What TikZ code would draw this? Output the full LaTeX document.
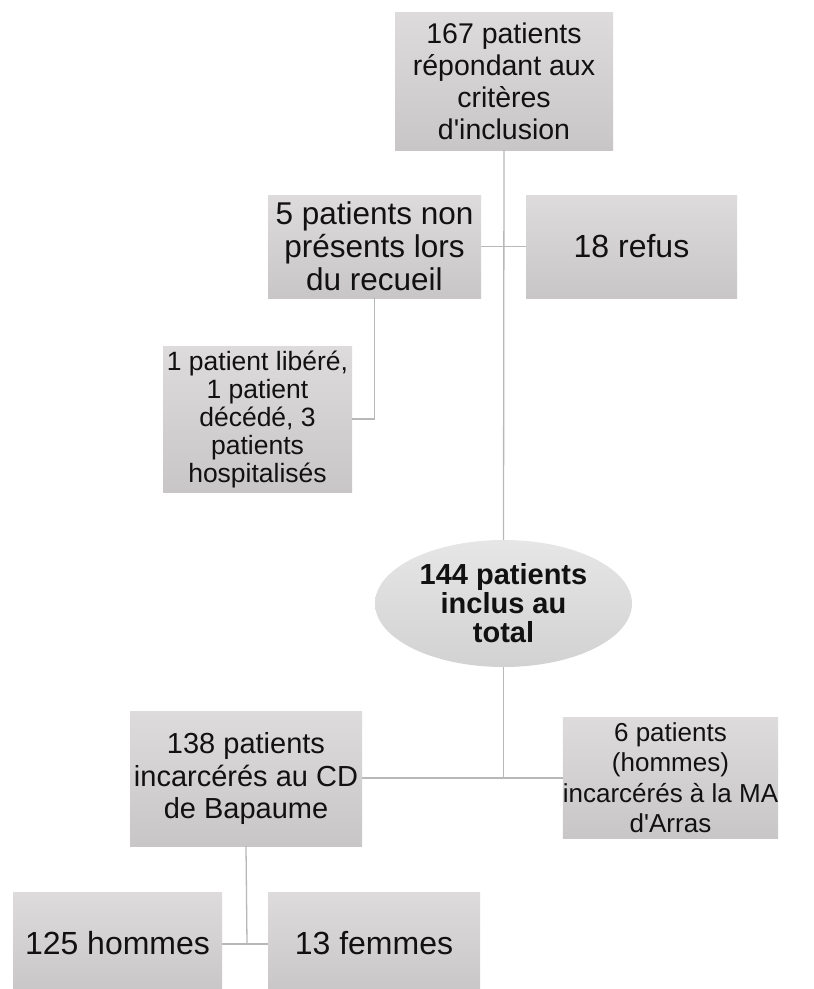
\documentclass[tikz,border=0pt]{standalone}
\usepackage{fontspec}
\newfontfamily\lsans{Liberation Sans}
\usetikzlibrary{shapes.geometric}
\definecolor{boxtop}{HTML}{DDDBDB}
\definecolor{boxbot}{HTML}{C8C6C6}
\definecolor{elltop}{HTML}{E6E6E6}
\definecolor{ellbot}{HTML}{D2D2D2}
\definecolor{linec}{HTML}{B8B8B8}
\definecolor{txt}{HTML}{111111}
\newcommand{\fs}[2]{\lsans\fontsize{#1}{#2}\selectfont}
\tikzset{
  gbox/.style={rectangle, inner sep=0pt, align=center, text=txt,
    top color=boxtop, bottom color=boxbot, draw=none},
  gell/.style={ellipse, inner sep=0pt, align=center, text=txt,
    top color=elltop, bottom color=ellbot, draw=none},
  conn/.style={draw=linec, line width=1.3pt}
}
\begin{document}
\begin{tikzpicture}[x=1pt,y=-1pt]
\useasboundingbox (0,0) rectangle (814,989);
\node[gbox, minimum width=218pt, minimum height=138pt, font=\fs{28.5}{32}] (top) at (504,81)
  {167 patients\\répondant aux\\critères\\d'inclusion};
\node[gbox, minimum width=213pt, minimum height=103pt, font=\fs{31.5}{33}] (np) at (374.5,246.5)
  {5 patients non\\présents lors\\du recueil};
\node[gbox, minimum width=211pt, minimum height=103pt, font=\fs{32}{33}] (refus) at (631.5,246.5)
  {18 refus};
\node[gbox, minimum width=189pt, minimum height=146pt, font=\fs{26.5}{28}] (lib) at (257.5,419)
  {1 patient libéré,\\1 patient\\décédé, 3\\patients\\hospitalisés};
\node[gell, minimum width=257pt, minimum height=127pt, font=\fs{29}{29}\bfseries] (tot) at (503.5,603.5)
  {144 patients\\inclus au\\total};
\node[gbox, minimum width=232pt, minimum height=135pt, font=\fs{29}{32.5}] (bap) at (246,778.5)
  {138 patients\\incarcérés au CD\\de Bapaume};
\node[gbox, minimum width=215pt, minimum height=121pt, font=\fs{26}{30.5}] (arr) at (670.5,777.5)
  {6 patients\\(hommes)\\incarcérés à la MA\\d'Arras};
\node[gbox, minimum width=209pt, minimum height=102pt, font=\fs{32}{33}] (hom) at (117.5,943)
  {125 hommes};
\node[gbox, minimum width=212pt, minimum height=102pt, font=\fs{32}{33}] (fem) at (374,943)
  {13 femmes};
\coordinate (j1) at (503.5,778);
\coordinate (j2) at (247,944);
\draw[conn] (top.south) -- (tot.north);
\draw[conn] (np.east) -- (refus.west);
\draw[conn] (np.south) |- (lib.east);
\draw[conn] (tot.south) -- (j1);
\draw[conn] (bap.east |- j1) -- (arr.west |- j1);
\draw[conn] (bap.south) -- (j2);
\draw[conn] (hom.east |- j2) -- (fem.west |- j2);
\end{tikzpicture}
\end{document}
